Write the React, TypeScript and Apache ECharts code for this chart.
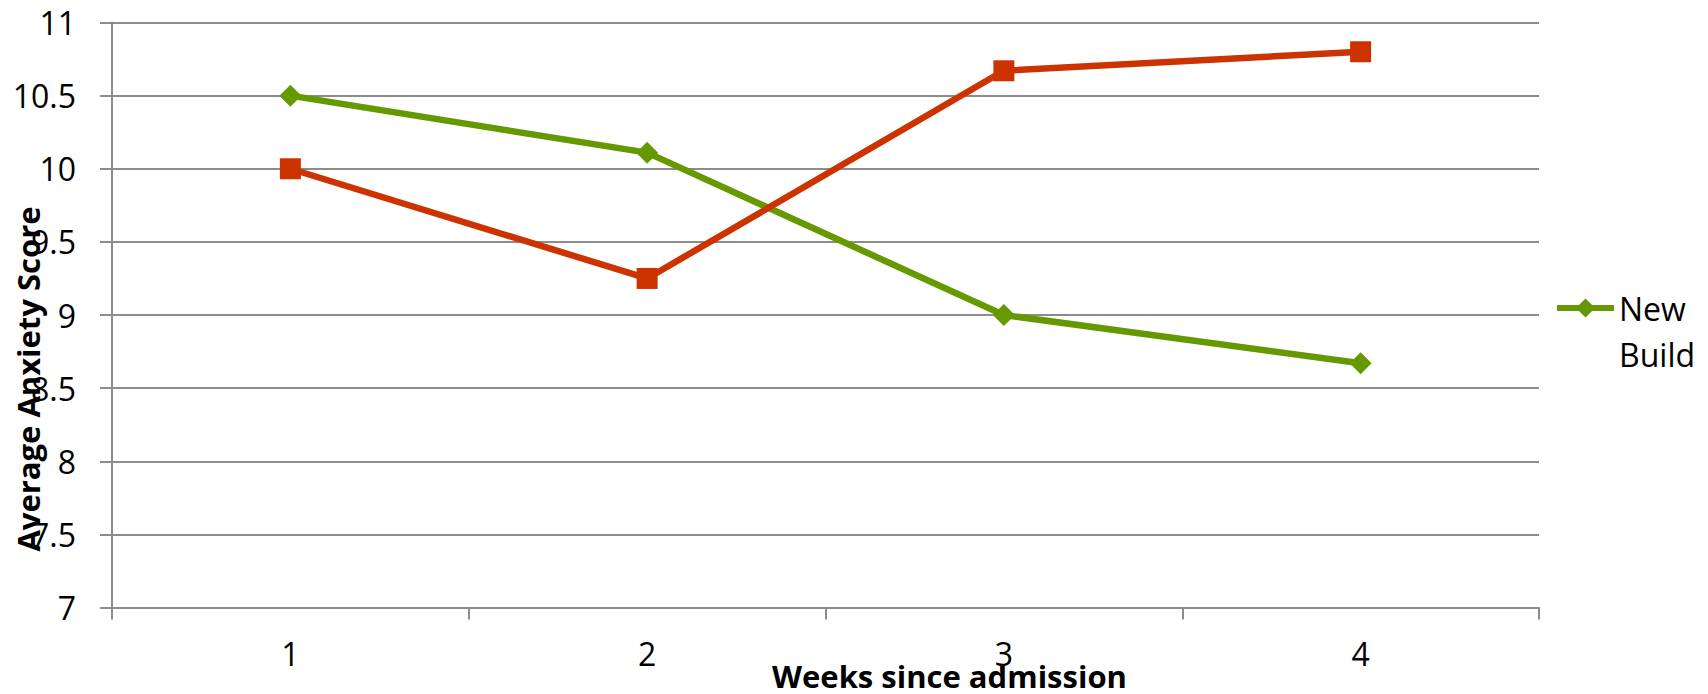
import React, { useEffect, useRef } from "react";
import * as echarts from "echarts";

const categories = ["1", "2", "3", "4"];
const newBuild = [10.5, 10.11, 9.0, 8.67];
const otherSeries = [10.0, 9.25, 10.67, 10.8];
const yTicks = { min: 7, max: 11, interval: 0.5 };
const xTitle = "Weeks since admission";
const yTitle = "Average Anxiety Score";
const legendName = "New Build";

export default function App() {
  const ref = useRef<HTMLDivElement>(null);
  useEffect(() => {
    if (!ref.current) return;
    const chart = echarts.init(ref.current, undefined, { renderer: "svg" });
    const font = "'Open Sans', 'Noto Sans', sans-serif";
    chart.setOption({
      animation: false,
      backgroundColor: "#ffffff",
      textStyle: { fontFamily: font },
      grid: {
        left: 112,
        right: 169,
        top: 22.5,
        bottom: 86.5,
        containLabel: false,
        outerBoundsMode: "none",
      },
      legend: {
        data: [legendName],
        left: 1554,
        top: 239,
        padding: 0,
        itemWidth: 57,
        itemHeight: 24,
        itemGap: 4,
        formatter: () => "\nNew\nBuild",
        lineStyle: { width: 6 },
        textStyle: {
          fontFamily: font,
          fontSize: 32,
          color: "#000",
          lineHeight: 46,
        },
      },
      xAxis: {
        type: "category",
        data: categories,
        boundaryGap: true,
        name: xTitle,
        nameLocation: "middle",
        nameGap: 53,
        nameMoveOverlap: false,
        nameTextStyle: {
          fontFamily: font,
          fontSize: 31,
          fontWeight: "bold",
          color: "#000",
          padding: [0, 0, 0, 248],
        },
        axisLine: { show: true, lineStyle: { color: "#8c8c8c", width: 2 } },
        axisTick: { show: true, length: 12, alignWithLabel: false, lineStyle: { color: "#8c8c8c", width: 2 } },
        axisLabel: { fontFamily: font, fontSize: 32, color: "#000", margin: 30 },
        splitLine: { show: false },
      },
      yAxis: {
        type: "value",
        min: yTicks.min,
        max: yTicks.max,
        interval: yTicks.interval,
        name: yTitle,
        nameLocation: "middle",
        nameGap: 69,
        nameRotate: 90,
        nameMoveOverlap: false,
        nameTextStyle: {
          fontFamily: font,
          fontSize: 31,
          fontWeight: "bold",
          color: "#000",
          padding: [0, 128, 0, 0],
        },
        axisLine: { show: true, lineStyle: { color: "#8c8c8c", width: 2 } },
        axisTick: { show: true, length: 12, lineStyle: { color: "#8c8c8c", width: 2 } },
        axisLabel: { fontFamily: font, fontSize: 32, color: "#000", margin: 36 },
        splitLine: { show: true, lineStyle: { color: "#8c8c8c", width: 2 } },
      },
      series: [
        {
          name: legendName,
          type: "line",
          data: newBuild,
          symbol: "diamond",
          symbolSize: 22,
          lineStyle: { color: "#669900", width: 6.5 },
          itemStyle: { color: "#669900" },
          z: 3,
        },
        {
          name: "Series 2",
          type: "line",
          data: otherSeries,
          symbol: "rect",
          symbolSize: 21,
          lineStyle: { color: "#cc3300", width: 6.5 },
          itemStyle: { color: "#cc3300" },
          z: 4,
        },
      ],
    });
    return () => chart.dispose();
  }, []);
  return (
    <div
      ref={ref}
      style={{ position: "absolute", left: 0, top: 0, width: 1708, height: 694 }}
    />
  );
}
